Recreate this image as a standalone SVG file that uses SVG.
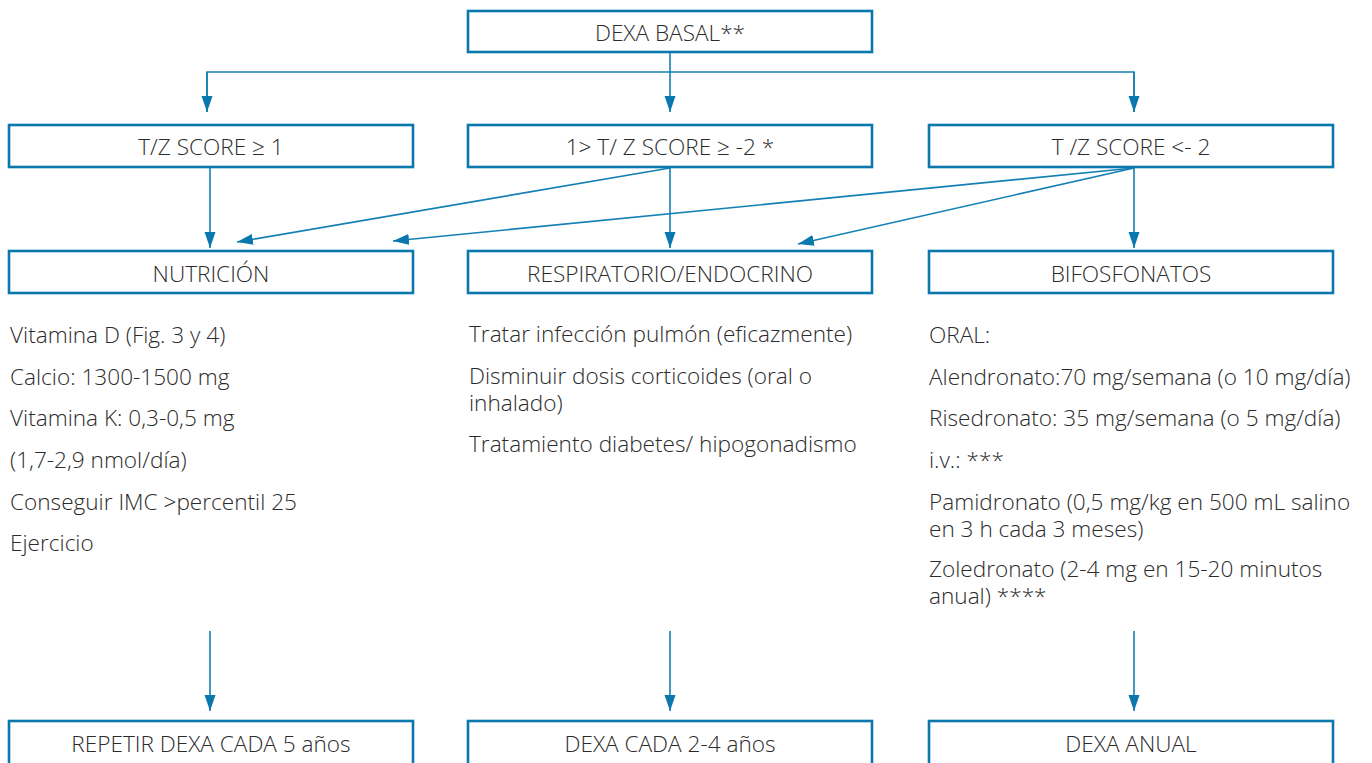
<svg xmlns="http://www.w3.org/2000/svg" width="1372" height="763" viewBox="0 0 1372 763">
  <style>
    .box { fill: #ffffff; stroke: #0a77ad; stroke-width: 2.6; }
    .label { font-family: "Open Sans", "Noto Sans", "Liberation Sans", sans-serif; font-weight: 300; font-size: 22.6px; fill: #2b2b2b; text-anchor: middle; }
    .body { font-family: "Open Sans", "Noto Sans", "Liberation Sans", sans-serif; font-weight: 300; font-size: 22.6px; fill: #2b2b2b; }
    .wire { fill: none; stroke: #1580b5; stroke-width: 1.6; }
  </style>
  <defs>
    <marker id="arrow" markerUnits="userSpaceOnUse" markerWidth="17" markerHeight="12" refX="16" refY="6" orient="auto">
      <path d="M0,0.5 L16,6 L0,11.5 z" fill="#0a77ad"/>
    </marker>
  </defs>
  <rect width="1372" height="763" fill="#ffffff"/>

  <!-- connectors -->
  <g id="connectors">
    <line class="wire" x1="670" y1="53" x2="670" y2="112" marker-end="url(#arrow)"/>
    <polyline class="wire" points="207,112 207,72 1134,72 1134,112"/>
    <line class="wire" x1="207" y1="72" x2="207" y2="112" marker-end="url(#arrow)"/>
    <line class="wire" x1="1134" y1="72" x2="1134" y2="112" marker-end="url(#arrow)"/>

    <line class="wire" x1="210" y1="167" x2="210" y2="248" marker-end="url(#arrow)"/>
    <line class="wire" x1="670" y1="167" x2="670" y2="248" marker-end="url(#arrow)"/>
    <line class="wire" x1="1134" y1="167" x2="1134" y2="248" marker-end="url(#arrow)"/>

    <line class="wire" x1="670" y1="168" x2="237" y2="242" marker-end="url(#arrow)"/>
    <line class="wire" x1="1134" y1="168" x2="393" y2="241" marker-end="url(#arrow)"/>
    <line class="wire" x1="1134" y1="168" x2="798" y2="244" marker-end="url(#arrow)"/>

    <line class="wire" x1="210" y1="631" x2="210" y2="711" marker-end="url(#arrow)"/>
    <line class="wire" x1="670" y1="631" x2="670" y2="711" marker-end="url(#arrow)"/>
    <line class="wire" x1="1134" y1="631" x2="1134" y2="711" marker-end="url(#arrow)"/>
  </g>

  <!-- top -->
  <g id="dexa-basal">
    <rect class="box" x="468" y="11" width="404" height="41"/>
    <text class="label" x="670" y="40.5">DEXA BASAL**</text>
  </g>

  <!-- score ranges -->
  <g id="score-high">
    <rect class="box" x="9" y="125" width="404" height="42"/>
    <text class="label" x="211" y="155">T/Z SCORE ≥ 1</text>
  </g>
  <g id="score-mid">
    <rect class="box" x="468" y="125" width="404" height="42"/>
    <text class="label" x="670" y="155">1&gt; T/ Z SCORE ≥ -2 *</text>
  </g>
  <g id="score-low">
    <rect class="box" x="929" y="125" width="404" height="42"/>
    <text class="label" x="1131" y="155">T /Z SCORE &lt;- 2</text>
  </g>

  <!-- treatments -->
  <g id="nutricion">
    <rect class="box" x="9" y="251" width="404" height="42"/>
    <text class="label" x="211" y="281.5">NUTRICIÓN</text>
    <text class="body" x="10" y="343">Vitamina D (Fig. 3 y 4)</text>
    <text class="body" x="10" y="385">Calcio: 1300-1500 mg</text>
    <text class="body" x="10" y="426">Vitamina K: 0,3-0,5 mg</text>
    <text class="body" x="10" y="468">(1,7-2,9 nmol/día)</text>
    <text class="body" x="10" y="510">Conseguir IMC &gt;percentil 25</text>
    <text class="body" x="10" y="551">Ejercicio</text>
  </g>
  <g id="respiratorio-endocrino">
    <rect class="box" x="468" y="251" width="404" height="42"/>
    <text class="label" x="670" y="281.5">RESPIRATORIO/ENDOCRINO</text>
    <text class="body" x="469" y="342">Tratar infección pulmón (eficazmente)</text>
    <text class="body" x="469" y="384">Disminuir dosis corticoides (oral o<tspan x="469" dy="27">inhalado)</tspan></text>
    <text class="body" x="469" y="452">Tratamiento diabetes/ hipogonadismo</text>
  </g>
  <g id="bifosfonatos">
    <rect class="box" x="929" y="251" width="404" height="42"/>
    <text class="label" x="1131" y="281.5">BIFOSFONATOS</text>
    <text class="body" x="929" y="343">ORAL:</text>
    <text class="body" x="929" y="385">Alendronato:70 mg/semana (o 10 mg/día)</text>
    <text class="body" x="929" y="426">Risedronato: 35 mg/semana (o 5 mg/día)</text>
    <text class="body" x="929" y="468">i.v.: ***</text>
    <text class="body" x="929" y="510">Pamidronato (0,5 mg/kg en 500 mL salino<tspan x="929" dy="27">en 3 h cada 3 meses)</tspan></text>
    <text class="body" x="929" y="577">Zoledronato (2-4 mg en 15-20 minutos<tspan x="929" dy="27">anual) ****</tspan></text>
  </g>

  <!-- follow-up -->
  <g id="seguimiento-5">
    <rect class="box" x="9" y="721" width="404" height="44"/>
    <text class="label" x="211" y="751.5">REPETIR DEXA CADA 5 años</text>
  </g>
  <g id="seguimiento-2-4">
    <rect class="box" x="468" y="721" width="404" height="44"/>
    <text class="label" x="670" y="751.5">DEXA CADA 2-4 años</text>
  </g>
  <g id="seguimiento-anual">
    <rect class="box" x="929" y="721" width="404" height="44"/>
    <text class="label" x="1131" y="751.5">DEXA ANUAL</text>
  </g>
</svg>
